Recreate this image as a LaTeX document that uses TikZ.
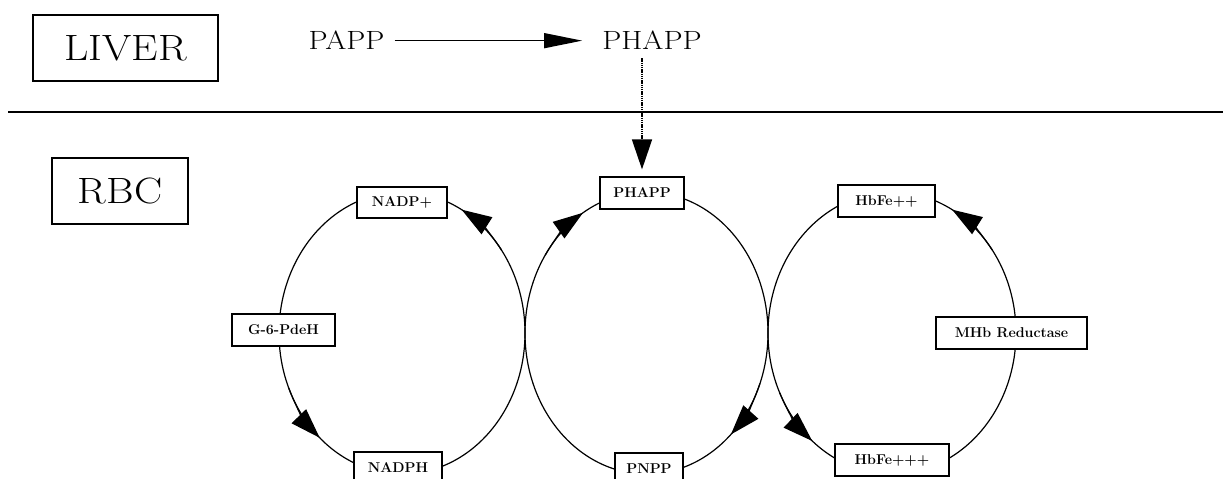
\documentclass[tikz,border=0pt]{standalone}
\usepackage{graphicx}
\usetikzlibrary{arrows.meta}
% slightly widened lettering
\newcommand{\wide}[1]{\scalebox{1.15}[1]{#1}}

\begin{document}
\begin{tikzpicture}[x=1pt,y=1pt,
  region/.style={draw, line width=1.4pt, inner sep=0pt,
    font=\fontsize{36.6}{40}\selectfont},
  cmpd/.style={inner sep=0pt, font=\fontsize{26.4}{30}\selectfont},
  tag/.style={draw, fill=white, line width=1.2pt, inner sep=0pt,
    minimum height=32pt, font=\fontsize{14.2}{16}\selectfont\bfseries},
  cyc/.style={line width=1.2pt},
  head/.style={line width=1.2pt, -{Triangle[length=30pt,width=20pt]}},
  dotline/.style={line width=1.5pt, dash pattern=on 1.5pt off 0.7pt},
]
\useasboundingbox (0,0) rectangle (1223,479);

% compartments
\node[region, minimum width=185pt, minimum height=66pt] (liver) at (125.5,431) {\wide{LIVER}};
\node[region, minimum width=136pt, minimum height=66pt] (rbc) at (120,288) {\wide{RBC}};

% membrane line
\coordinate (ruleL) at (8,367);
\coordinate (ruleR) at (1223,367);
\draw[line width=2pt] (ruleL) -- (ruleR);

% liver metabolism
\node[cmpd, anchor=base] (papp) at (346.5,429) {\wide{PAPP}};
\node[cmpd, anchor=base] (phapp) at (652,429) {\wide{PHAPP}};
\draw[line width=1.2pt, -{Triangle[length=38pt,width=15pt]}, shorten <=10pt, shorten >=20pt]
  (papp.east) -- (phapp.west);

% redox cycles in the red cell
\coordinate (cL) at (402,146);
\coordinate (cM) at (646.5,146);
\coordinate (cR) at (892,146);
\draw[cyc] (cL) ellipse [x radius=123pt, y radius=141pt];
\draw[cyc] (cM) ellipse [x radius=121.5pt, y radius=141pt];
\draw[cyc] (cR) ellipse [x radius=124pt, y radius=141pt];

% direction of flow on each cycle
\draw[head] (cL) ++(36:123pt and 141pt) arc[start angle=36, end angle=61, x radius=123pt, y radius=141pt];
\draw[head] (cL) ++(203:123pt and 141pt) arc[start angle=203, end angle=228, x radius=123pt, y radius=141pt];
\draw[head] (cM) ++(146.5:121.5pt and 141pt) arc[start angle=146.5, end angle=121.5, x radius=121.5pt, y radius=141pt];
\draw[head] (cM) ++(-21:121.5pt and 141pt) arc[start angle=-21, end angle=-46, x radius=121.5pt, y radius=141pt];
\draw[head] (cR) ++(205:124pt and 141pt) arc[start angle=205, end angle=230, x radius=124pt, y radius=141pt];
\draw[head] (cR) ++(36:124pt and 141pt) arc[start angle=36, end angle=61, x radius=124pt, y radius=141pt];

% species and enzymes
\node[tag, minimum width=90pt, minimum height=31pt] (nadpp) at (402,276.5) {NADP+};
\node[tag, minimum width=103pt] (g6pd) at (283.5,149) {G-6-PdeH};
\node[tag, minimum width=88pt, minimum height=31pt] (nadph) at (398,11.5) {NADPH};
\node[tag, minimum width=84pt] (pbox) at (642,286) {PHAPP};
\node[tag, minimum width=68pt] (pnpp) at (649,10) {PNPP};
\node[tag, minimum width=97pt] (hbfe2) at (886.5,278) {HbFe++};
\node[tag, minimum width=151pt] (mhbr) at (1011.5,146) {MHb Reductase};
\node[tag, minimum width=114pt] (hbfe3) at (892,19) {HbFe+++};

% transport of PHAPP into the red cell
\draw[dotline, -{Triangle[length=30pt,width=20pt]}, shorten <=8pt, shorten >=7pt]
  (phapp.south -| pbox.north) -- (pbox.north);
\end{tikzpicture}
\end{document}
